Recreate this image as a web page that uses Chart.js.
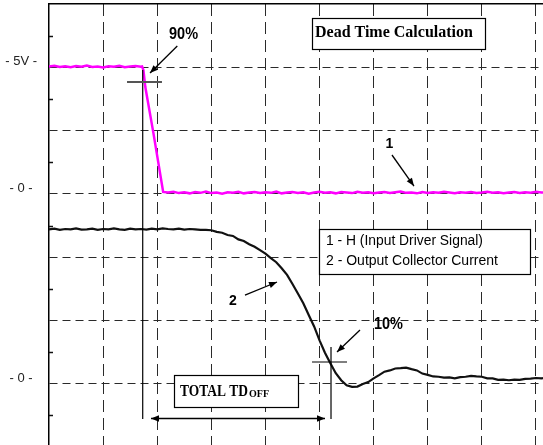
<!DOCTYPE html>
<html><head><meta charset="utf-8">
<script src="https://cdn.jsdelivr.net/npm/chart.js@4"></script>
<style>html,body{margin:0;padding:0;background:#fff;overflow:hidden;}canvas{display:block;}</style>
</head><body>
<canvas id="c" width="543" height="447"></canvas>
<script>
// ---- data (time in screen divisions) ----
const ch1Time = [0,0.1,0.2,0.3,0.4,0.5,0.6,0.7,0.8,0.9,1.0,1.1,1.2,1.3,1.4,1.5,1.6,1.7,
  1.72,1.745,1.78,1.93,2.11,
  2.2,2.3,2.4,2.5,2.6,2.7,2.8,2.9,3.0,3.1,3.2,3.3,3.4,3.5,3.6,3.7,3.8,3.9,4.0,4.1,4.2,4.3,4.4,4.5,4.6,4.7,4.8,4.9,
  5.0,5.1,5.2,5.3,5.4,5.5,5.6,5.7,5.8,5.9,6.0,6.1,6.2,6.3,6.4,6.5,6.6,6.7,6.8,6.9,7.0,7.1,7.2,7.3,7.4,7.5,7.6,7.7,7.8,7.9,
  8.0,8.1,8.2,8.3,8.4,8.5,8.6,8.7,8.8,8.9,9.0,9.1,9.13];
const ch1Volts = [5.03,5.06,5.01,5.04,5.00,5.05,5.02,5.07,5.01,5.03,4.99,5.04,5.02,5.06,5.00,5.03,5.05,5.02,
  5.03,4.89,4.22,2.40,0.075,
  0.05,0.08,0.03,0.06,0.02,0.07,0.04,0.09,0.03,0.05,0.01,0.06,0.04,0.08,0.02,0.05,0.07,0.03,0.06,0.04,
  0.09,0.02,0.05,0.07,0.03,0.06,0.01,0.05,0.08,0.04,0.06,0.02,0.07,0.05,0.03,0.08,0.04,0.06,0.02,0.05,
  0.07,0.03,0.06,0.09,0.04,0.05,0.02,0.07,0.03,0.06,0.04,0.08,0.05,0.02,0.06,0.04,0.07,0.03,0.05,0.08,
  0.04,0.06,0.02,0.05,0.07,0.03,0.06,0.04,0.08,0.05,0.05];
const ch2Time = [0,0.1,0.2,0.3,0.4,0.5,0.6,0.7,0.8,0.9,1.0,1.1,1.2,1.3,1.4,1.5,1.6,1.7,1.8,1.9,
  2.0,2.1,2.2,2.3,2.4,2.5,2.6,2.7,2.8,2.9,3.0,3.1,3.2,3.3,3.4,3.5,3.6,3.7,3.8,3.9,4.0,4.1,4.2,4.3,4.4,4.5,4.6,4.7,4.8,4.9,
  5.0,5.1,5.2,5.3,5.4,5.5,5.6,5.7,5.8,5.9,6.0,6.1,6.2,6.3,6.4,6.5,6.6,6.7,6.8,6.9,7.0,7.1,7.2,7.3,7.4,7.5,7.6,7.7,7.8,7.9,
  8.0,8.1,8.2,8.3,8.4,8.5,8.6,8.7,8.8,8.9,9.0,9.1,9.13];
// channel 2 level, in divisions above its own zero marker
const ch2Level = [2.44,2.45,2.43,2.445,2.44,2.455,2.435,2.44,2.45,2.43,
  2.445,2.44,2.455,2.44,2.43,2.45,2.44,2.445,2.435,2.45,
  2.44,2.455,2.445,2.44,2.45,2.435,2.445,2.44,2.43,
  2.43,2.425,2.40,2.385,2.35,2.335,2.28,2.255,2.205,2.165,2.11,2.055,1.985,1.92,1.825,1.72,1.575,1.425,1.27,1.085,0.905,
  0.685,0.49,0.325,0.165,0.055,-0.025,-0.05,-0.045,-0.005,0.025,0.085,0.135,0.19,0.21,0.24,0.245,0.255,0.23,0.21,0.16,
  0.14,0.115,0.11,0.095,0.1,0.085,0.105,0.11,0.125,0.115,
  0.11,0.085,0.085,0.06,0.065,0.055,0.065,0.06,0.075,0.08,0.09,0.085,0.09];

const xGridDivs = [1,2,3,4,5,6,7,8,9];
const yGridVolts = [-7.5,-5,-2.5,0,2.5,5];
const yMinorVolts = [-8.75,-6.25,-3.75,-1.25,1.25,3.75,6.25];
const yTickValues = [5,0,-7.5];
const yTickLabels = ['- 5V -','- 0 -','- 0 -'];
const titleText = 'Dead Time Calculation';
const legendLines = ['1 - H (Input Driver Signal)','2 - Output Collector Current'];
const cursorTimes = [1.732, 5.212];

function head(ctx,x1,y1,x2,y2){
  const a=Math.atan2(y2-y1,x2-x1),L=8,W=3.2;
  ctx.beginPath();ctx.moveTo(x2,y2);
  ctx.lineTo(x2-L*Math.cos(a)+W*Math.sin(a),y2-L*Math.sin(a)-W*Math.cos(a));
  ctx.lineTo(x2-L*Math.cos(a)-W*Math.sin(a),y2-L*Math.sin(a)+W*Math.cos(a));
  ctx.closePath();ctx.fill();
}
function arrow(ctx,x1,y1,x2,y2,both){
  ctx.beginPath();ctx.moveTo(x1,y1);ctx.lineTo(x2,y2);ctx.stroke();
  head(ctx,x1,y1,x2,y2); if(both) head(ctx,x2,y2,x1,y1);
}
function line(ctx,x1,y1,x2,y2){ctx.beginPath();ctx.moveTo(x1,y1);ctx.lineTo(x2,y2);ctx.stroke();}
function noPad(s){s.paddingTop=0;s.paddingBottom=0;s.paddingLeft=0;s.paddingRight=0;}

const minorTicks = {
  id:'minorTicks',
  afterDraw(chart){
    const ctx=chart.ctx, ys=chart.scales.y, L=chart.chartArea.left;
    ctx.save();ctx.strokeStyle='#111';ctx.lineWidth=1.5;
    yMinorVolts.forEach(v=>{const p=Math.round(ys.getPixelForValue(v))+0.5;line(ctx,L,p,L+4,p);});
    ctx.restore();
  }
};

const annot = {
  id:'annot',
  afterDatasetsDraw(chart){
    const ctx=chart.ctx, xs=chart.scales.x, ys=chart.scales.y2;
    const X=v=>xs.getPixelForValue(v), Y=v=>ys.getPixelForValue(v);
    ctx.save();
    ctx.fillStyle='#000';ctx.strokeStyle='#000';
    // cursors
    ctx.lineWidth=1.2;
    line(ctx,X(cursorTimes[0]),Y(4.957),X(cursorTimes[0]),Y(-0.558));
    line(ctx,X(cursorTimes[1]),Y(0.58),X(cursorTimes[1]),Y(-0.558));
    line(ctx,X(4.861),Y(0.343),X(5.508),Y(0.343));
    ctx.strokeStyle='#555';ctx.lineWidth=2;
    line(ctx,X(1.442),Y(4.767),X(2.088),Y(4.767));
    ctx.strokeStyle='#000';ctx.lineWidth=1.3;
    // arrows
    arrow(ctx,X(2.371),Y(5.336),X(1.867),Y(4.909));
    arrow(ctx,X(6.339),Y(3.614),X(6.745),Y(3.124));
    arrow(ctx,X(3.622),Y(1.401),X(4.214),Y(1.607));
    arrow(ctx,X(5.748),Y(0.848),X(5.323),Y(0.501));
    ctx.lineWidth=1.5;
    arrow(ctx,X(1.885),Y(-0.55),X(5.101),Y(-0.55),true);
    // boxes
    ctx.lineWidth=1.2;
    const box=(t1,d1,t2,d2)=>{const x=Math.round(X(t1))+0.5,y=Math.round(Y(d1))+0.5,w=Math.round(X(t2)-X(t1)),h=Math.round(Y(d2)-Y(d1));
      ctx.fillStyle='#fff';ctx.fillRect(x,y,w,h);ctx.strokeRect(x,y,w,h);ctx.fillStyle='#000';};
    box(4.861,5.778,8.058,5.288);
    box(4.99,2.444,8.89,1.731);
    box(2.31,0.137,4.602,-0.368);
    // texts
    ctx.textBaseline='alphabetic';
    ctx.textAlign='left';
    ctx.font='bold 16px "Liberation Serif"';
    ctx.fillText(titleText,X(4.916),Y(5.473),160);
    ctx.font='14px "Liberation Sans"';
    ctx.fillText(legendLines[0],X(5.119),Y(2.187),157);
    ctx.fillText(legendLines[1],X(5.119),Y(1.880),172);
    ctx.font='bold 17px "Liberation Serif"';
    const tx=X(2.421), ty=Y(-0.194);
    ctx.fillText('TOTAL TD',tx,ty,68);
    const w=Math.min(68,ctx.measureText('TOTAL TD').width);
    ctx.font='bold 10px "Liberation Serif"';
    ctx.fillText('OFF',tx+w+1,ty+1);
    ctx.textAlign='center';
    ctx.font='bold 17px "Liberation Sans"';
    ctx.fillText('90%',X(2.486),Y(5.441),29);
    ctx.fillText('10%',X(6.274),Y(0.860),29);
    ctx.font='bold 14px "Liberation Sans"';
    ctx.fillText('1',X(6.293),Y(3.724));
    ctx.fillText('2',X(3.4),Y(1.243));
    ctx.restore();
  }
};

new Chart(document.getElementById('c'),{
  type:'line',
  data:{datasets:[
    {label:'1 - H (Input Driver Signal)',data:ch1Time.map((t,i)=>({x:t,y:ch1Volts[i]})),borderColor:'#ff00ff',borderWidth:2.5,pointRadius:0,tension:0,yAxisID:'y'},
    {label:'2 - Output Collector Current',data:ch2Time.map((t,i)=>({x:t,y:ch2Level[i]})),borderColor:'#111',borderWidth:2.2,pointRadius:0,tension:0,yAxisID:'y2'}
  ]},
  options:{
    responsive:false,animation:false,devicePixelRatio:1,
    layout:{padding:0,autoPadding:false},
    plugins:{legend:{display:false},tooltip:{enabled:false}},
    scales:{
      x:{type:'linear',position:'bottom',min:0,max:9.13,
        afterBuildTicks:s=>{s.ticks=xGridDivs.map(v=>({value:v}));},
        afterFit:s=>{s.height=0;noPad(s);},
        ticks:{display:false},
        grid:{color:'#2a2a2a',lineWidth:1,drawTicks:false},
        border:{display:false,dash:[12,6]}},
      x2:{type:'linear',position:'top',min:0,max:9.13,
        afterFit:s=>{s.height=4;noPad(s);},
        ticks:{display:false},
        grid:{display:false,drawTicks:false},
        border:{display:true,color:'#000',width:1.5}},
      y:{type:'linear',position:'left',min:-10,max:7.5,
        afterBuildTicks:s=>{s.ticks=yGridVolts.map(v=>({value:v}));},
        afterFit:s=>{s.width=49;noPad(s);},
        ticks:{font:{family:'"Liberation Sans"',size:13},color:'#222',crossAlign:'center',padding:12,labelOffset:-5.5,
          callback:v=>{const i=yTickValues.indexOf(v);return i>=0?yTickLabels[i]:'';}},
        grid:{color:'#2a2a2a',lineWidth:1,drawTicks:false},
        border:{display:true,color:'#000',width:1.5,dash:[8,5]}},
      y2:{type:'linear',display:false,min:-1,max:6}
    }
  },
  plugins:[minorTicks,annot]
});
</script>
</body></html>
